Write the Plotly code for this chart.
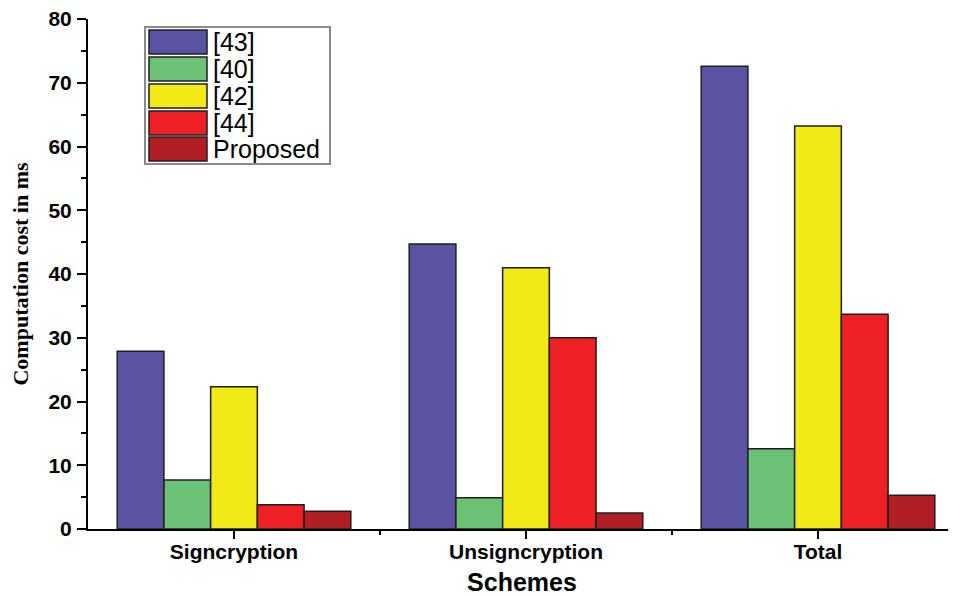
import plotly.graph_objects as go

# ---- data ----
categories = ["Signcryption", "Unsigncryption", "Total"]
series_names = ["[43]", "[40]", "[42]", "[44]", "Proposed"]
ref43 = [27.9, 44.7, 72.6]
ref40 = [7.7, 4.9, 12.6]
ref42 = [22.3, 41.0, 63.2]
ref44 = [3.8, 30.0, 33.7]
proposed = [2.8, 2.5, 5.3]
y_ticks = [0, 10, 20, 30, 40, 50, 60, 70, 80]

series_values = [ref43, ref40, ref42, ref44, proposed]
colors = ["#5A52A2", "#6CC274", "#F2EA17", "#EE1F25", "#B11F24"]

# page body has an 8px margin; size the figure so it fills the window exactly
OFF = 8
W, H = 956 - OFF, 596 - OFF
L, R, T, B = 88 - OFF, 0, 19 - OFF, 67
PW, PH = W - L - R, H - T - B

x_pos = list(range(len(categories)))

fig = go.Figure()
for name, vals, col in zip(series_names, series_values, colors):
    fig.add_trace(go.Bar(
        x=x_pos, y=vals, name=name,
        marker=dict(color=col, line=dict(color="#1e1e1e", width=1.5)),
        showlegend=False,
    ))

def px_x(p):
    return (p - OFF - L) / PW

def px_y(p):
    return (H - B - (p - OFF)) / PH

shapes = []
annotations = []
# legend frame
shapes.append(dict(type="rect", xref="paper", yref="paper",
                   x0=px_x(145), x1=px_x(330), y0=px_y(164), y1=px_y(27),
                   line=dict(color="#8a8a8a", width=2), fillcolor="white", layer="above"))
sw_top = [30, 57, 84, 111, 137]
for i, (name, col) in enumerate(zip(series_names, colors)):
    t = sw_top[i]
    shapes.append(dict(type="rect", xref="paper", yref="paper",
                       x0=px_x(149), x1=px_x(207), y0=px_y(t + 24), y1=px_y(t),
                       line=dict(color="#1e1e1e", width=1.5), fillcolor=col, layer="above"))
    annotations.append(dict(xref="paper", yref="paper", x=px_x(211), y=px_y(t + 12),
                            text=name, showarrow=False, xanchor="left", yanchor="middle",
                            font=dict(family="Liberation Sans, Arial", size=25, color="black")))

fig.update_layout(
    width=W, height=H,
    margin=dict(l=L, r=R, t=T, b=B, pad=0),
    paper_bgcolor="white", plot_bgcolor="white",
    barmode="group", bargap=0.2, bargroupgap=0,
    shapes=shapes, annotations=annotations,
    xaxis=dict(
        automargin=False,
        range=[-0.5, -0.5 + PW / 292.0],
        tickmode="array", tickvals=x_pos, ticktext=categories,
        ticks="outside", ticklen=8, tickwidth=2, tickcolor="black",
        minor=dict(tickmode="array", tickvals=[0.5, 1.5, 2.5], ticks="outside",
                   ticklen=4, tickwidth=2, tickcolor="black"),
        showline=True, linecolor="black", linewidth=2,
        showgrid=False, zeroline=False,
        ticklabelstandoff=-5,
        tickfont=dict(family="Liberation Sans, Arial", size=21, color="black", weight="bold"),
        title=dict(text="<b>Schemes</b>", standoff=12,
                   font=dict(family="Liberation Sans, Arial", size=25, color="black")),
    ),
    yaxis=dict(
        automargin=False,
        range=[0, 80], tickmode="array", tickvals=y_ticks,
        ticks="outside", ticklen=9, tickwidth=2, tickcolor="black",
        minor=dict(dtick=5, tick0=0, ticks="outside", ticklen=5, tickwidth=2, tickcolor="black"),
        showline=True, linecolor="black", linewidth=2,
        showgrid=False, zeroline=False,
        ticklabelstandoff=1,
        ticklabeloverflow="allow",
        tickfont=dict(family="Liberation Sans, Arial", size=21, color="black", weight="bold"),
        title=dict(text="<b>Computation cost in ms</b>", standoff=16,
                   font=dict(family="Liberation Serif, Times New Roman", size=22, color="black")),
    ),
)

fig.write_html("out.html")
